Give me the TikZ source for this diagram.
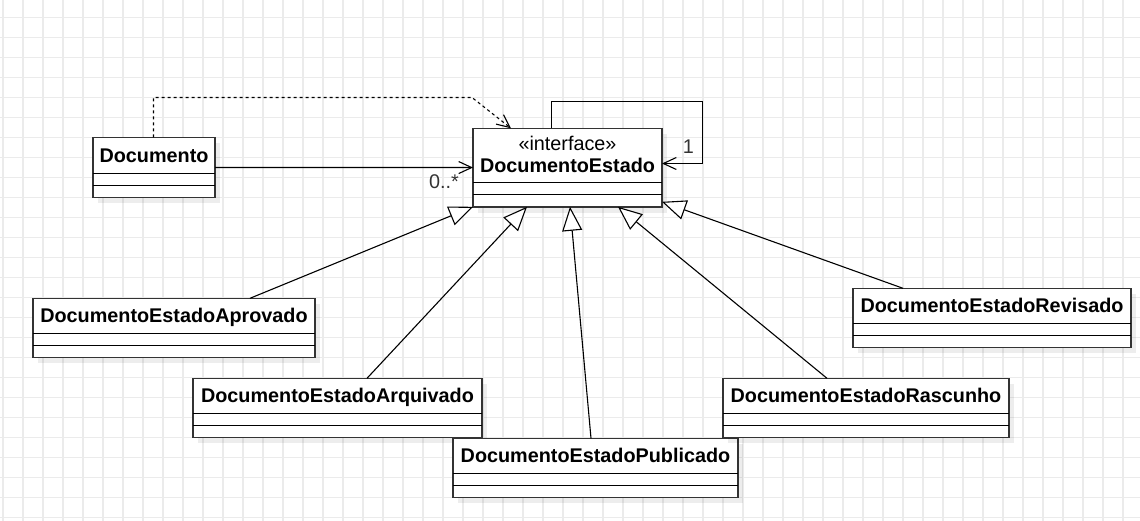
\documentclass[tikz,border=0pt]{standalone}
\usepackage{fontspec}
\setmainfont{Liberation Sans}
\usetikzlibrary{arrows.meta,calc}
\definecolor{gridc}{RGB}{235,235,235}
\tikzset{
  gridline/.style={draw=gridc, line width=1.3pt},
  clsbox/.style={draw=black!80, line width=1.5pt, fill=white, inner sep=0pt, outer sep=0pt},
  seprule/.style={draw=black, line width=1.3pt},
  clsname/.style={font=\bfseries\fontsize{19.8}{22}\selectfont, inner sep=0pt},
  stereo/.style={font=\fontsize{19.8}{22}\selectfont, inner sep=0pt},
  conn/.style={draw=black, line width=1.1pt},
  dep/.style={conn, dash pattern=on 3pt off 3pt, -{Straight Barb[length=13pt,width=12pt]}},
  assoc/.style={conn, -{Straight Barb[length=13pt,width=12pt]}},
  gen/.style={conn, -{Triangle[length=24pt,width=20pt,fill=white]}},
  mult/.style={font=\fontsize{19.8}{22}\selectfont, text=black!80, inner sep=0pt},
  shad/.style={fill=black, opacity=0.07},
}
% #1 name, #2 x, #3 y (top-left), #4 width, #5 header height
\newcommand{\umlbox}[5]{%
  \fill[shad] ({#2+5},{#3+6}) rectangle ({#2+#4+5},{#3+#5+24+6});
  \node[clsbox, minimum width=#4pt, minimum height={#5pt+24pt}, anchor=north west] (#1) at (#2,#3) {};
  \draw[seprule] ({#2},{#3+#5}) -- ({#2+#4},{#3+#5});
  \draw[seprule] ({#2},{#3+#5+12}) -- ({#2+#4},{#3+#5+12});
}
\begin{document}
\begin{tikzpicture}[x=1pt,y=-1pt]
  \useasboundingbox (0,0) rectangle (1140,521);
  \fill[white] (0,0) rectangle (1140,521);
  % grid
  \foreach \i in {0,...,56} \draw[gridline] ({3+20*\i},0) -- ({3+20*\i},521);
  \foreach \j in {0,...,25} \draw[gridline] (0,{17.5+20*\j}) -- (1140,{17.5+20*\j});

  % classes
  \umlbox{doc}{93}{137.5}{122}{36}
  \node[clsname, anchor=base] (doc-t) at (154,162.3) {Documento};

  \umlbox{de}{473}{128.3}{189}{54.5}
  \node[stereo, anchor=base] (de-s) at (567.5,150.3) {«interface»};
  \node[clsname, anchor=base] (de-t) at (567.5,172.3) {DocumentoEstado};

  \umlbox{apr}{33}{298.3}{282}{35}
  \node[clsname, anchor=base] (apr-t) at (174,322.5) {DocumentoEstadoAprovado};

  \umlbox{rev}{853}{288.3}{278}{35}
  \node[clsname, anchor=base] (rev-t) at (992,312.5) {DocumentoEstadoRevisado};

  \umlbox{arq}{193}{378.3}{289}{35}
  \node[clsname, anchor=base] (arq-t) at (337.5,402.5) {DocumentoEstadoArquivado};

  \umlbox{pub}{453}{438.3}{285}{35}
  \node[clsname, anchor=base] (pub-t) at (595.5,462.5) {DocumentoEstadoPublicado};

  \umlbox{ras}{723}{378.3}{286}{35}
  \node[clsname, anchor=base] (ras-t) at (866,402.5) {DocumentoEstadoRascunho};

  % dependency (dashed)
  \coordinate (dk) at (472,97.5);
  \draw[dep] ($(doc.north west)+(60.5,0)$) |- (dk) -- ($(de.north west)+(38,0)$);

  % association
  \draw[assoc] (doc.east) -- (de.west);
  \node[mult, anchor=base east] (m0) at (459,188.5) {0..*};

  % self association
  \coordinate (lp) at (702.5,101.5);
  \draw[assoc] ($(de.north west)+(78.5,0)$) |- (lp) |- ($(de.north east)+(0,35.2)$);
  \node[mult, anchor=base] (m1) at (688.3,154) {1};

  % generalizations
  \draw[gen] ($(apr.north west)+(217,0)$) -- (de.south west);
  \draw[gen] ($(arq.north west)+(174,0)$) -- ($(de.south west)+(54,0)$);
  \draw[gen] ($(pub.north west)+(138,0)$) -- ($(de.south west)+(97,0)$);
  \draw[gen] ($(ras.north west)+(104,0)$) -- ($(de.south west)+(145,0)$);
  \draw[gen] ($(rev.north west)+(50,0)$) -- ($(de.south east)+(0,-5)$);
\end{tikzpicture}
\end{document}
